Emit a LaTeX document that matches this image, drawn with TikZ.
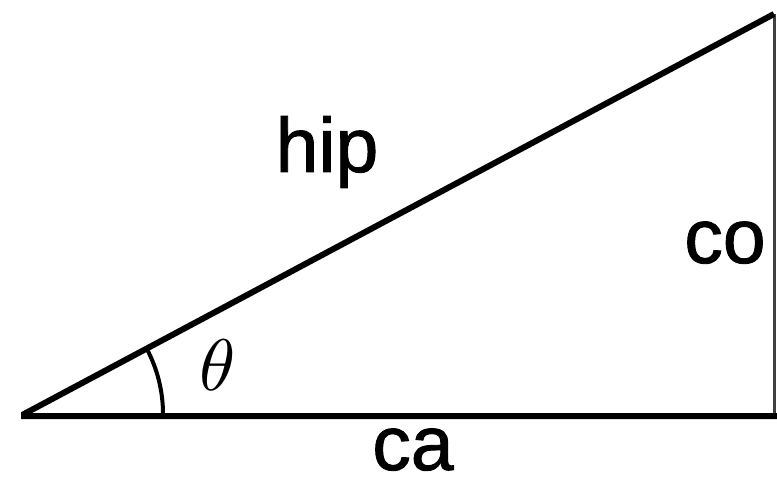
\documentclass[tikz,border=0pt]{standalone}
\usepackage{graphicx}
\usepackage{fontspec}
\setmainfont{Liberation Sans}[FakeBold=1.2]
\tikzset{
  lbl/.style={font=\fontsize{77}{80}\selectfont, inner sep=0pt, anchor=base},
  side/.style={line width=6pt, line join=miter},
  thin side/.style={line width=3pt, draw=black!75},
}
\begin{document}
\begin{tikzpicture}[x=1pt,y=-1pt]
\useasboundingbox (0,0) rectangle (777,484);
\fill[white] (0,0) rectangle (777,484);
\coordinate (A) at (24,414);
\coordinate (B) at (777,416);
\coordinate (R) at (774,416);
\coordinate (C) at (774,14);
\draw[thin side] (R) -- (C);
\draw[side] (B) -- (24,416) -- (A) -- (C);
\draw[line width=4pt] ([xshift=139pt]A) arc[start angle=0, end angle=-28, radius=139];
\node[lbl] (hip) at (327,172) {hip};
\node[lbl] (co) at (725,263) {co};
\node[lbl] (ca) at (413,470) {ca};
\node[inner sep=0pt] (th) at (218,365) {\scalebox{7.3}{$\theta$}};
\end{tikzpicture}
\end{document}
